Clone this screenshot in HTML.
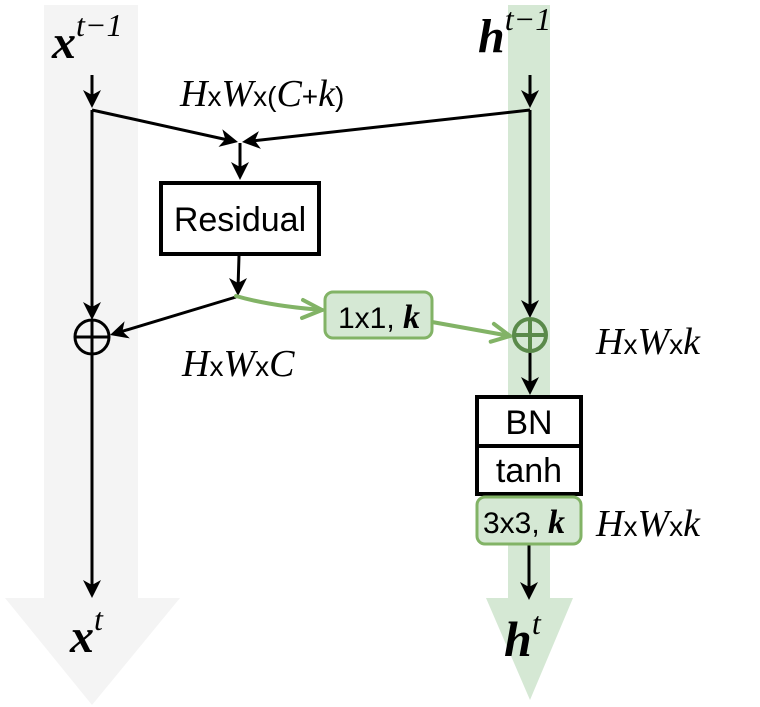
<!DOCTYPE html>
<html><head><style>body{margin:0;background:#fff}svg{display:block}
.m{font-family:"Liberation Serif",serif;font-style:italic}
.s{font-family:"Liberation Sans",sans-serif}</style></head><body>
<svg width="760" height="707" viewBox="0 0 760 707">
<path d="M44,5H138V598H180L92,705L5,598H44Z" fill="#f4f4f4"/>
<path d="M508,5H550V598H573L530,700L486,598H508Z" fill="#d5e8d4"/>
<g stroke="#000" stroke-width="3" fill="none">
<line x1="92" y1="75" x2="92" y2="100"/>
<line x1="530" y1="75" x2="530" y2="100"/>
<line x1="92" y1="110" x2="92" y2="312"/>
<line x1="92" y1="110" x2="228" y2="140"/>
<line x1="530" y1="110" x2="252" y2="141"/>
<line x1="240" y1="143" x2="240" y2="172"/>
<rect x="161" y="183" width="158" height="71" fill="#fff" stroke-width="4"/>
<line x1="239" y1="256" x2="238" y2="288"/>
<line x1="236" y1="297" x2="120" y2="332"/>
<circle cx="92" cy="337" r="17"/>
<line x1="75" y1="337" x2="109" y2="337"/><line x1="92" y1="320" x2="92" y2="354"/>
<line x1="92" y1="354" x2="92" y2="590"/>
<line x1="530" y1="110" x2="530" y2="312"/>
<line x1="530" y1="352" x2="530" y2="388"/>
<rect x="477" y="397" width="104" height="49" fill="#fff" stroke-width="4"/>
<rect x="477" y="446" width="104" height="48" fill="#fff" stroke-width="4"/>
<line x1="529" y1="545" x2="529" y2="592"/>
</g>
<g fill="#000">
<polygon points="83,90 92,108 101,90 92,95"/>
<polygon points="521,90 530,108 539,90 530,95"/>
<polygon points="83,302 92,320 101,302 92,307"/>
<polygon points="218.5,146.9 238,142 222.3,129.3 225.3,139.2"/>
<polygon points="258.9,131.1 242,142 260.9,148.9 254.9,140.6"/>
<polygon points="231,162 240,180 249,162 240,167"/>
<polygon points="229,278 238,296 247,278 238,283"/>
<polygon points="124.6,321.2 110,335 129.8,338.4 122.4,331.2"/>
<polygon points="83,580 92,598 101,580 92,585"/>
<polygon points="521,300 530,318 539,300 530,305"/>
<polygon points="521,377 530,395 539,377 530,382"/>
<polygon points="520,582 529,600 538,582 529,587"/>
</g>
<g stroke="#82b366" stroke-width="4" fill="none" stroke-linecap="round">
<path d="M236,296 Q270,306 322,310"/>
<polyline points="303,300 322,310 302,318"/>
<line x1="432" y1="322" x2="510" y2="336"/>
<polyline points="493.9,323.9 510,336 490.7,341.7"/>
</g>
<rect x="325" y="292" width="107" height="46" rx="8" fill="#d5e8d4" stroke="#82b366" stroke-width="3"/>
<g stroke="#5a8a4a" stroke-width="4" fill="none"><circle cx="530" cy="335" r="16"/><line x1="514" y1="335" x2="546" y2="335"/><line x1="530" y1="319" x2="530" y2="351"/></g>
<rect x="477" y="497" width="104" height="47" rx="8" fill="#d5e8d4" stroke="#82b366" stroke-width="3"/>
<text x="240" y="231" class="s" font-size="34" text-anchor="middle">Residual</text>
<text x="529" y="434" class="s" font-size="34" text-anchor="middle">BN</text>
<text x="529" y="482" class="s" font-size="34" text-anchor="middle">tanh</text>
<text x="338" y="328" class="s" font-size="30">1x1, <tspan class="m" font-weight="bold" font-size="34">k</tspan></text>
<text x="483" y="533" class="s" font-size="30">3x3, <tspan class="m" font-weight="bold" font-size="34">k</tspan></text>
<text x="52" y="58" class="m" font-size="48" font-weight="bold">x<tspan dy="-22" font-size="32" font-weight="normal">t−1</tspan></text>
<text x="478" y="52" class="m" font-size="48" font-weight="bold">h<tspan dy="-22" font-size="32" font-weight="normal">t−1</tspan></text>
<text x="70" y="652" class="m" font-size="48" font-weight="bold">x<tspan dy="-22" font-size="32" font-weight="normal">t</tspan></text>
<text x="504" y="656" class="m" font-size="50" font-weight="bold">h<tspan dy="-22" font-size="32" font-weight="normal">t</tspan></text>
<text x="180" y="106" class="m" font-size="38">H<tspan class="s" font-style="normal" font-size="28">x</tspan>W<tspan class="s" font-style="normal" font-size="28">x(</tspan>C<tspan class="s" font-style="normal" font-size="28">+</tspan>k<tspan class="s" font-style="normal" font-size="28">)</tspan></text>
<text x="182" y="376" class="m" font-size="38">H<tspan class="s" font-style="normal" font-size="28">x</tspan>W<tspan class="s" font-style="normal" font-size="28">x</tspan>C</text>
<text x="596" y="354" class="m" font-size="38">H<tspan class="s" font-style="normal" font-size="28">x</tspan>W<tspan class="s" font-style="normal" font-size="28">x</tspan>k</text>
<text x="596" y="536" class="m" font-size="38">H<tspan class="s" font-style="normal" font-size="28">x</tspan>W<tspan class="s" font-style="normal" font-size="28">x</tspan>k</text>
</svg></body></html>
